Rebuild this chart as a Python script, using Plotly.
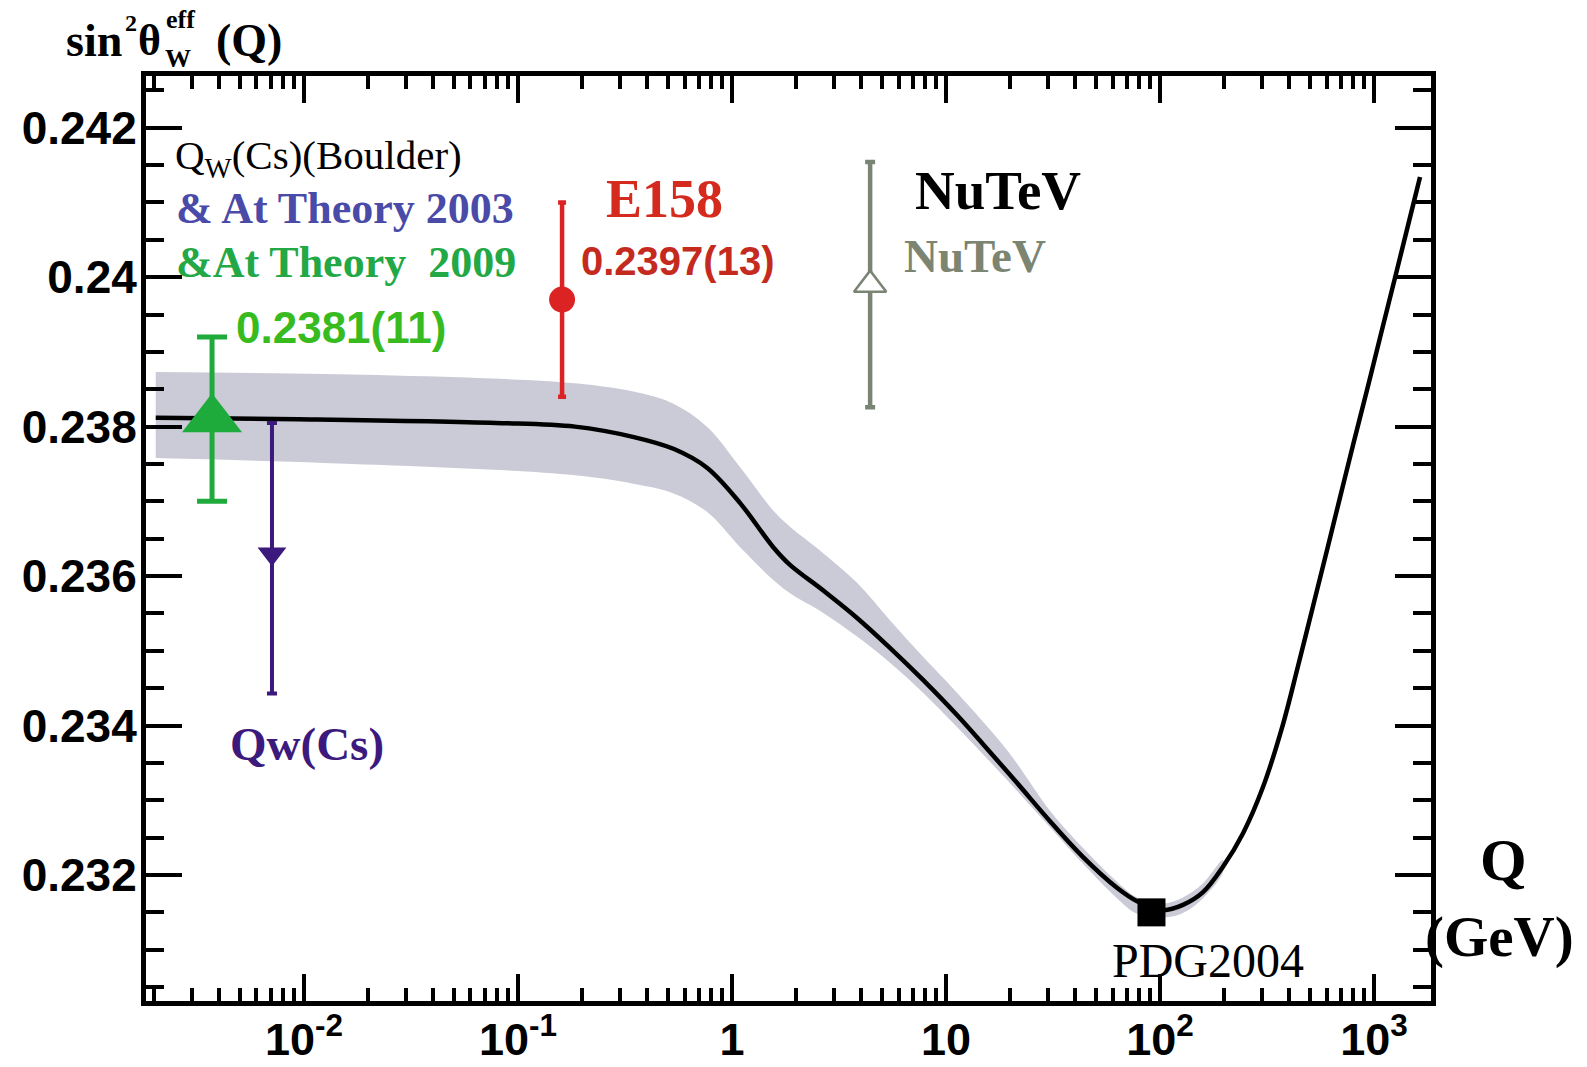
import math
import plotly.graph_objects as go

# ---------------- data ----------------
# Standard-model running of sin^2(theta_W) (black curve)
curve_q = [0.00203, 0.00938, 0.0789, 0.1845, 0.348, 0.536, 0.764, 1.089, 1.555, 1.866,
           2.661, 3.84, 5.47, 7.81, 11.25, 14.9, 21.5, 30.6, 43.7, 62.9, 78.1, 103.3,
           128, 158.8, 196.8, 244.3, 303, 375.6, 441.6, 518.8, 603, 693, 797, 927,
           1066, 1280, 1472, 1640]
curve_s2w = [0.23812, 0.23810, 0.23805, 0.23800, 0.23786, 0.23770, 0.23745, 0.23698, 0.23639,
             0.23615, 0.23581, 0.23544, 0.23504, 0.23461, 0.23414, 0.23375, 0.23323, 0.23272,
             0.23224, 0.23183, 0.23165, 0.23153, 0.23160, 0.23177, 0.23211, 0.23256, 0.23318,
             0.23402, 0.23480, 0.23560, 0.23635, 0.23705, 0.23775, 0.23849, 0.23919, 0.24010,
             0.24080, 0.24134]

# theory uncertainty band (grey)
band_q = [0.00203, 0.0219, 0.1845, 0.372, 0.530, 0.764, 1.089, 1.555, 1.866, 2.661, 3.84,
          5.47, 7.81, 11.25, 19.3, 30.6, 43.7, 62.9, 78.1, 103.3, 128, 158.8, 196.8]
band_hi = [0.23873, 0.23869, 0.23858, 0.23845, 0.23831, 0.23800, 0.23746, 0.23688, 0.23666,
           0.23631, 0.23591, 0.23541, 0.23492, 0.23444, 0.23367, 0.23286, 0.23236, 0.23191,
           0.23170, 0.23162, 0.23170, 0.23189, 0.23220]
band_lo = [0.23758, 0.23749, 0.23735, 0.23722, 0.23711, 0.23686, 0.23639, 0.23595, 0.23577,
           0.23551, 0.23519, 0.23484, 0.23444, 0.23398, 0.23327, 0.23264, 0.23215, 0.23169,
           0.23148, 0.23143, 0.23149, 0.23169, 0.23204]

# measurements
qw2009_q, qw2009_s, qw2009_err = [0.00372], [0.2381], [0.0011]
qw2003_q, qw2003_s, qw2003_up, qw2003_dn = [0.00709], [0.2363], [0.00175], [0.00187]
e158_q, e158_s, e158_err = [0.1607], [0.2397], [0.0013]
nutev_q, nutev_s, nutev_err = [4.42], [0.2399], [0.00164]
pdg_q, pdg_s = [91.19], [0.2315]

# axes
x_tickvals = [0.01, 0.1, 1, 10, 100, 1000]
x_ticktext = ["10<sup>-2</sup>", "10<sup>-1</sup>", "1", "10", "10<sup>2</sup>", "10<sup>3</sup>"]
y_tickvals = [0.232, 0.234, 0.236, 0.238, 0.240, 0.242]
y_ticktext = ["0.232", "0.234", "0.236", "0.238", "0.24", "0.242"]
x_minor = [m * 10.0 ** e for e in range(-3, 4) for m in range(2, 10)]

SERIF = "Liberation Serif"
SANS = "Liberation Sans"

fig = go.Figure()

fig.add_trace(go.Scatter(
    x=band_q + band_q[::-1], y=band_hi + band_lo[::-1],
    mode="lines", fill="toself", fillcolor="#cacbd6",
    line=dict(width=0, color="#cacbd6", shape="spline", smoothing=1.0),
    hoverinfo="skip", showlegend=False))

fig.add_trace(go.Scatter(
    x=curve_q, y=curve_s2w, mode="lines",
    line=dict(color="black", width=4.5, shape="spline", smoothing=1.0),
    showlegend=False))

fig.add_trace(go.Scatter(
    x=qw2003_q, y=qw2003_s, mode="markers",
    marker=dict(symbol="triangle-down", size=25, color="#3c1a7d"),
    error_y=dict(type="data", symmetric=False, array=qw2003_up, arrayminus=qw2003_dn,
                 color="#3c1a7d", thickness=4, width=5),
    showlegend=False))

fig.add_trace(go.Scatter(
    x=qw2009_q, y=qw2009_s, mode="markers",
    marker=dict(symbol="triangle-up", size=52, color="#1fab3c"),
    error_y=dict(type="data", array=qw2009_err, color="#1fab3c", thickness=5, width=15),
    showlegend=False))

fig.add_trace(go.Scatter(
    x=e158_q, y=e158_s, mode="markers",
    marker=dict(symbol="circle", size=26, color="#dc2323"),
    error_y=dict(type="data", array=e158_err, color="#dc2323", thickness=4.5, width=4),
    showlegend=False))

fig.add_trace(go.Scatter(
    x=nutev_q, y=nutev_s, mode="markers",
    marker=dict(symbol="triangle-up", size=28, color="white",
                line=dict(color="#7a8474", width=2.5)),
    error_y=dict(type="data", array=nutev_err, color="#7a8474", thickness=4.5, width=5),
    showlegend=False))

fig.add_trace(go.Scatter(
    x=pdg_q, y=pdg_s, mode="markers",
    marker=dict(symbol="square", size=28, color="black"),
    showlegend=False))


def note(text, x, y, size, color="black", family=SERIF, xanchor="left", ref="data"):
    d = dict(text=text, x=x, y=y, showarrow=False, xanchor=xanchor, yanchor="middle",
             font=dict(family=family, size=size, color=color))
    if ref == "data":
        d.update(xref="x", yref="y", x=math.log10(x))
    else:
        d.update(xref="paper", yref="paper")
    return d


annotations = [
    note("Q<sub>W</sub>(Cs)(Boulder)", 0.002444, 0.241600, 41),
    note("<b>&#38; At Theory 2003</b>", 0.00247, 0.240925, 44, "#4a4aa8"),
    note("<b>&#38;At Theory \u00a02009</b>", 0.00247, 0.240190, 44, "#22a845"),
    note("<b>0.2381(11)</b>", 0.00471, 0.239333, 44, "#37bb1f", SANS),
    note("<b>E158</b>", 0.2523, 0.241046, 54, "#d42b1e"),
    note("<b>0.2397(13)</b>", 0.1928, 0.240216, 40, "#c52a1e", SANS),
    note("<b>NuTeV</b>", 7.01, 0.241166, 55, "black"),
    note("<b>NuTeV</b>", 6.22, 0.240283, 47, "#7b8572"),
    note("<b>Qw(Cs)</b>", 0.004416, 0.233753, 47, "#3c1a7d"),
    note("PDG2004", 58.3, 0.230862, 48, "black"),
    note("<b>Q</b>", 1.0568, 0.1524, 60, xanchor="center", ref="paper"),
    note("<b>(GeV)</b>", 0.9935, 0.0692, 57, ref="paper"),
    # y-axis title  sin^2 theta_W^eff (Q)
    note("<b>sin</b>", -0.0638, 1.0389, 46, ref="paper"),
    note("<b>2</b>", -0.0179, 1.0573, 24, ref="paper"),
    note("<b>θ</b>", -0.0078, 1.0389, 44, ref="paper"),
    note("<b>eff</b>", 0.0137, 1.0616, 26, ref="paper"),
    note("<b>W</b>", 0.0129, 1.0184, 26, ref="paper"),
    note("<b>(Q)</b>", 0.0529, 1.0389, 46, ref="paper"),
]

fig.update_layout(
    width=1587, height=1067,
    margin=dict(l=146, r=156, t=76, b=66, autoexpand=False),
    paper_bgcolor="white", plot_bgcolor="white",
    showlegend=False,
    annotations=annotations,
    xaxis=dict(
        type="log", range=[-2.738, 3.266], automargin=False,
        showline=True, linecolor="black", linewidth=5, mirror="allticks",
        ticks="inside", ticklen=27, tickwidth=4, tickcolor="black",
        tickmode="array", tickvals=x_tickvals, ticktext=x_ticktext,
        tickfont=dict(family=SANS, size=45, color="black", weight="bold"),
        ticklabelstandoff=-5,
        minor=dict(ticks="inside", ticklen=13, tickwidth=3.5, tickcolor="black",
                   tickmode="array", tickvals=x_minor, showgrid=False),
        showgrid=False, zeroline=False),
    yaxis=dict(
        range=[0.230314, 0.242692], automargin=False,
        showline=True, linecolor="black", linewidth=5, mirror="allticks",
        ticks="inside", ticklen=36, tickwidth=4, tickcolor="black",
        tickmode="array", tickvals=y_tickvals, ticktext=y_ticktext,
        tickfont=dict(family=SANS, size=46, color="black", weight="bold"),
        ticklabelstandoff=-5,
        minor=dict(ticks="inside", ticklen=18, tickwidth=3.5, tickcolor="black",
                   dtick=0.0005, tick0=0.23, showgrid=False),
        showgrid=False, zeroline=False),
)

fig.write_html("out.html")
